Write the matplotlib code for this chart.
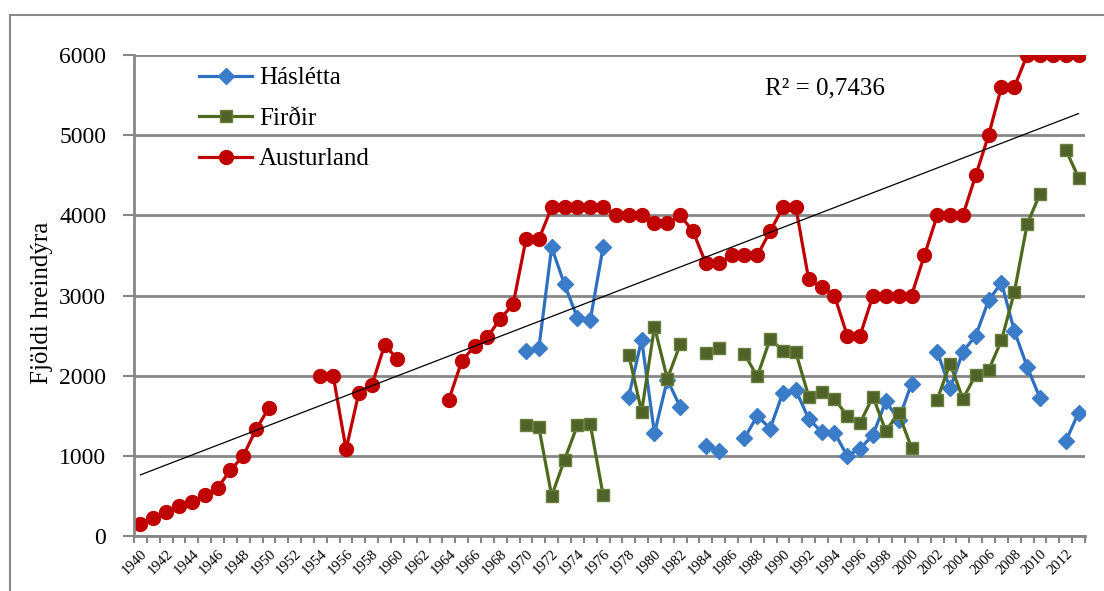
import matplotlib.pyplot as plt
import numpy as np
from matplotlib.patches import Rectangle

nan = np.nan
years = list(range(1940, 2014))

hasletta = [nan] * 30 + [
    2310, 2340, 3600, 3140, 2720, 2690, 3600, nan, 1740, 2450,
    1280, 1950, 1610, nan, 1120, 1060, nan, 1220, 1500, 1340,
    1790, 1820, 1460, 1300, 1290, 1000, 1090, 1260, 1680, 1450,
    1900, nan, 2300, 1840, 2300, 2500, 2940, 3160, 2560, 2110,
    1720, nan, 1180, 1540]

firdir = [nan] * 30 + [
    1380, 1360, 500, 950, 1380, 1400, 510, nan, 2260, 1550,
    2610, 1960, 2390, nan, 2280, 2340, nan, 2270, 1990, 2460,
    2310, 2290, 1740, 1800, 1710, 1500, 1410, 1740, 1310, 1530,
    1100, nan, 1700, 2150, 1710, 2010, 2070, 2440, 3040, 3890,
    4270, nan, 4820, 4470]

austurland = [
    150, 230, 300, 380, 430, 510, 600, 820, 1000, 1330,
    1600, nan, nan, nan, 2000, 2000, 1080, 1790, 1880, 2380,
    2210, nan, nan, nan, 1700, 2180, 2370, 2480, 2710, 2890,
    3700, 3700, 4100, 4100, 4100, 4100, 4100, 4000, 4000, 4000,
    3900, 3900, 4000, 3800, 3400, 3400, 3500, 3500, 3500, 3800,
    4100, 4100, 3200, 3100, 3000, 2500, 2500, 3000, 3000, 3000,
    3000, 3500, 4000, 4000, 4000, 4500, 5000, 5600, 5600, 6000,
    6000, 6000, 6000, 6000]

r2_text = "R² = 0,7436"

plt.rcParams['font.family'] = ['Liberation Serif', 'DejaVu Serif']

fig = plt.figure(figsize=(11.04, 5.91), dpi=100)
fig.patches.append(Rectangle((10 / 1104, -0.1), 1.2, (1 - 15 / 591) + 0.1,
                             transform=fig.transFigure, fill=False,
                             edgecolor='#888888', linewidth=1.5))
ax = fig.add_axes([134 / 1104, 55 / 591, 951 / 1104, 481 / 591])

x = np.array(years)
ax.plot(x, hasletta, color='#2E6FBF', lw=2.3, marker='D', ms=8,
        mfc='#3A7CC8', mec='#3A7CC8', label='Háslétta')
ax.plot(x, firdir, color='#4F6A1E', lw=2.3, marker='s', ms=8,
        mfc='#4F6228', mec='#6A8040', label='Firðir')
ax.plot(x, austurland, color='#C00000', lw=2.3, marker='o', ms=10,
        label='Austurland')

# linear trend for Austurland
a = np.array(austurland, dtype=float)
ok = ~np.isnan(a)
k, m = np.polyfit(x[ok], a[ok], 1)
ax.plot([x[0], x[-1]], [k * x[0] + m, k * x[-1] + m], color='black', lw=0.9)

ax.text(0.6635, 0.93, r2_text, transform=ax.transAxes, fontsize=18, va='center')

ax.set_xlim(1939.5, 2013.5)
ax.set_ylim(0, 6000)
ax.set_yticks(range(0, 6001, 1000))
ax.yaxis.grid(True, color='#868686', lw=2)
ax.set_axisbelow(True)
ax.set_xticks(years[::2])
ax.set_xticklabels([str(y) for y in years[::2]], rotation=45, ha='right',
                   rotation_mode='anchor', fontsize=10.5)
ax.set_xticks(np.arange(1939.5, 2014, 1), minor=True)
ax.tick_params(axis='x', which='major', length=0, pad=8)
ax.tick_params(axis='x', which='minor', length=5, width=1.5, color='#868686')
ax.tick_params(axis='y', length=8, width=1.5, color='#868686', labelsize=17,
               pad=12)
for s in ['top', 'right']:
    ax.spines[s].set_visible(False)
for s in ['left', 'bottom']:
    ax.spines[s].set_color('#868686')
    ax.spines[s].set_linewidth(2)
ax.set_ylabel('Fjöldi hreindýra', fontsize=18)
ax.yaxis.set_label_coords(-0.085, 0.485)

ax.legend(loc='upper left', bbox_to_anchor=(0.045, 1.022), frameon=False,
          fontsize=18, handlelength=2.1, labelspacing=0.72, handletextpad=0.28)

fig.savefig('out.png', dpi=100)
